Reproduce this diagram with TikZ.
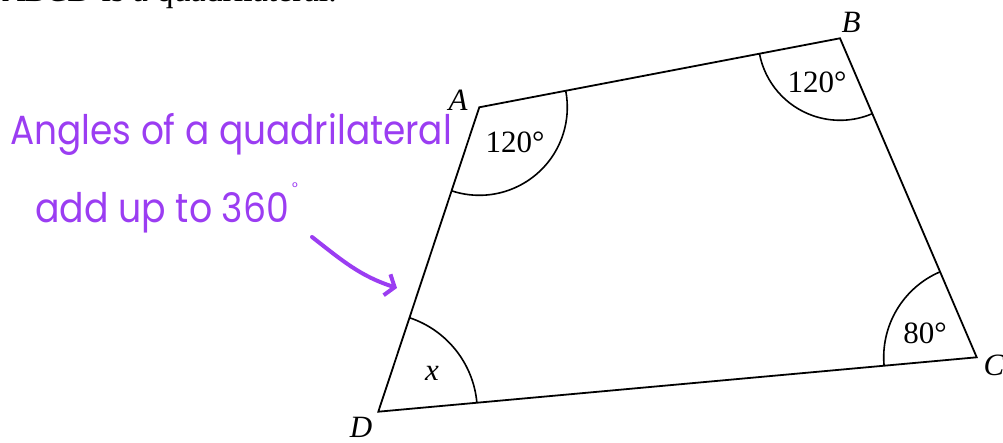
\documentclass[tikz,border=0pt]{standalone}
\usepackage{fontspec}
\setmainfont{Liberation Serif}
\newfontfamily\handfont{Poppins}
\usepackage{tikz}
\usetikzlibrary{angles,arrows.meta}
\definecolor{penpurple}{HTML}{9B3DF2}

\begin{document}
\begin{tikzpicture}[x=1pt,y=1pt,
  vlabel/.style={font=\fontsize{31}{36}\selectfont\itshape,inner sep=0pt},
  anglabel/.style={font=\fontsize{31}{36}\selectfont,inner sep=0pt},
  arcmark/.style={draw,line width=1.6pt,angle radius=#1},
  pen/.style={penpurple,line width=4pt,line cap=round,line join=round},
  handtext/.style={text=penpurple,font=\handfont\fontsize{37}{40}\selectfont,anchor=base west,inner sep=0pt}]
  \useasboundingbox (0,0) rectangle (1003,443);
  % heading, cut off by the page edge
  \node[anchor=base east,inner sep=0pt,font=\fontsize{34}{38}\selectfont] (title) at (337,441) {\textit{ABCD} is a quadrilateral.};
  % the quadrilateral
  \coordinate (A) at (479.3,335.7);
  \coordinate (B) at (840,404.7);
  \coordinate (C) at (976.7,85.7);
  \coordinate (D) at (378.3,31.3);
  \draw[line width=1.8pt,line join=miter] (A) -- (B) -- (C) -- (D) -- cycle;
  \pic[arcmark=88pt] {angle=D--A--B};
  \pic[arcmark=82pt] {angle=A--B--C};
  \pic[arcmark=93pt] {angle=B--C--D};
  \pic[arcmark=99pt] {angle=C--D--A};
  \node[vlabel] (labA) at (458,343) {A};
  \node[vlabel] (labB) at (851,421) {B};
  \node[vlabel] (labC) at (994,78) {C};
  \node[vlabel] (labD) at (361,16) {D};
  \node[anglabel] (angA) at (515,301) {120°};
  \node[anglabel] (angB) at (817,361) {120°};
  \node[anglabel] (angC) at (925,110) {80°};
  \node[anglabel] (angD) at (432,70) {\textit{x}};
  % handwritten note
  \node[handtext] (note1) at (10,298) {\scalebox{0.97}[1.1]{Angles of a quadrilateral}};
  \node[handtext] (note2) at (35,220) {\scalebox{0.98}[1.1]{add up to 360}\kern3pt\raisebox{30pt}{\fontsize{14}{14}\selectfont°}};
  \coordinate (tail) at (312,206);
  \coordinate (tip) at (397,155);
  \draw[pen,-{Straight Barb[length=8pt,width=22pt]}] (tail) to[out=-38,in=162] (tip);
\end{tikzpicture}
\end{document}
